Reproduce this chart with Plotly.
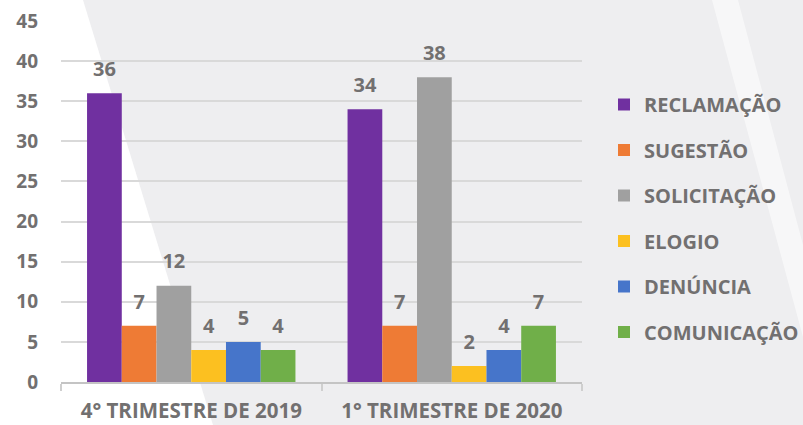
import plotly.graph_objects as go

categories = ["4° TRIMESTRE DE 2019", "1° TRIMESTRE DE 2020"]
series_names = ["RECLAMAÇÃO", "SUGESTÃO", "SOLICITAÇÃO", "ELOGIO", "DENÚNCIA", "COMUNICAÇÃO"]
reclamacao = [36, 34]
sugestao = [7, 7]
solicitacao = [12, 38]
elogio = [4, 2]
denuncia = [5, 4]
comunicacao = [4, 7]
y_ticks = [0, 5, 10, 15, 20, 25, 30, 35, 40, 45]

values = [reclamacao, sugestao, solicitacao, elogio, denuncia, comunicacao]
colors = ["#7030a0", "#ee7b35", "#a0a0a0", "#fcc020", "#4675ca", "#70af49"]

W, H = 803, 425
ML, MR, MT, MB = 61, 221, 21, 43
PW, PH = W - ML - MR, H - MT - MB
TEXT = "#727070"
FONT = "Open Sans"


def px(x):
    return (x - ML) / PW


def py(y):
    return (H - MB - y) / PH


def f(size):
    return dict(family=FONT, size=size, color=TEXT, weight="bold")


fig = go.Figure()
for i, (name, vals, col) in enumerate(zip(series_names, values, colors)):
    fig.add_trace(go.Bar(
        x=categories, y=vals, name=name, marker=dict(color=col, line=dict(width=0)),
        offsetgroup=str(i), legendgroup=name,
    ))
for i, (name, vals) in enumerate(zip(series_names, values)):
    fig.add_trace(go.Scatter(
        x=categories, y=vals, mode="markers+text", text=[str(v) for v in vals],
        textposition="top center", offsetgroup=str(i), showlegend=False,
        marker=dict(size=18, opacity=0),
        textfont=f(20),
        hoverinfo="skip", cliponaxis=False,
    ))

shapes = [
    dict(type="path", xref="paper", yref="paper", layer="below",
         path=f"M {px(0)} {py(0)} L {px(83)} {py(0)} L {px(213)} {py(425)} L {px(0)} {py(425)} Z",
         fillcolor="#ffffff", line=dict(width=0)),
    dict(type="path", xref="paper", yref="paper", layer="below",
         path=f"M {px(712)} {py(0)} L {px(738)} {py(0)} L {px(803)} {py(245)} L {px(803)} {py(337)} Z",
         fillcolor="rgba(255,255,255,0.55)", line=dict(width=0)),
]

fig.update_layout(
    width=W, height=H, autosize=False,
    margin=dict(l=ML, r=MR, t=MT, b=MB, autoexpand=False),
    paper_bgcolor="#eeeef0", plot_bgcolor="rgba(0,0,0,0)",
    barmode="group", bargap=0.2, bargroupgap=0,
    scattermode="group", scattergap=0.2,
    shapes=shapes,
    font=f(19),
    legend=dict(
        x=px(604), y=py(85), xanchor="left", yanchor="top",
        font=f(20),
        tracegroupgap=16.5, bgcolor="rgba(0,0,0,0)", borderwidth=0,
    ),
    showlegend=True,
    xaxis=dict(
        type="category", tickson="boundaries", ticks="outside", ticklen=7,
        tickcolor="#cfcfcf", tickwidth=2,
        showline=True, linecolor="#c4c4c4", linewidth=2,
        showgrid=False, ticklabelstandoff=9, automargin=False,
        tickfont=f(20.5),
    ),
    yaxis=dict(
        range=[0, 45], tickvals=y_ticks, showgrid=True, gridcolor="#d9d9d9",
        gridwidth=2, zeroline=False, showline=False, ticks="",
        ticklabelstandoff=22, automargin=False,
        tickfont=f(19),
    ),
)

fig.write_html(
    "out.html",
    config={"displayModeBar": False, "responsive": False},
    post_script=(
        "document.body.style.margin='0';"
        "document.body.style.overflow='hidden';"
        "document.documentElement.style.overflow='hidden';"
    ),
)
